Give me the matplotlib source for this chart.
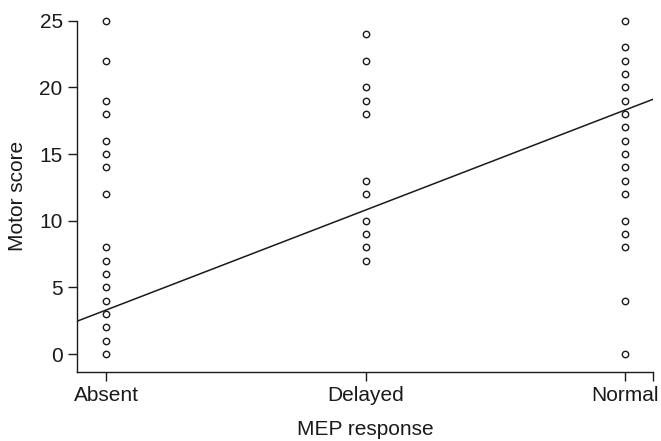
import matplotlib
matplotlib.use("Agg")
import matplotlib.pyplot as plt
import numpy as np

categories = ["Absent", "Delayed", "Normal"]
absent_scores = [25, 22, 19, 18, 16, 15, 14, 12, 8, 7, 6, 5, 4, 3, 2, 1, 0]
delayed_scores = [24, 22, 20, 19, 18, 13, 12, 10, 9, 8, 7]
normal_scores = [25, 23, 22, 21, 20, 19, 18, 17, 16, 15, 14, 13, 12, 10, 9, 8, 4, 0]
fit_intercept = 3.3
fit_slope = 7.5
yticks = [0, 5, 10, 15, 20, 25]

plt.rcParams['font.family'] = ['Liberation Sans', 'DejaVu Sans']
fig = plt.figure(figsize=(6.61, 4.41), dpi=100)
ax = fig.add_axes([0.1165, 0.157, 0.8715, 0.796])

col = "#1a1a1a"
for i, scores in enumerate([absent_scores, delayed_scores, normal_scores]):
    ax.plot([i] * len(scores), scores, linestyle='none', marker='o', markersize=4.6,
            markerfacecolor='white', markeredgecolor=col, markeredgewidth=1.0,
            clip_on=False, zorder=3)

xmin, xmax = -0.112, 2.108
xs = np.array([xmin, xmax])
ax.plot(xs, fit_intercept + fit_slope * xs, color=col, linewidth=1.1, zorder=2)

ax.set_xlim(xmin, xmax)
ax.set_ylim(-1.33, 25)
ax.set_xticks(range(len(categories)))
ax.set_xticklabels(categories)
ax.set_xticks([xmax], minor=True)
ax.set_yticks(yticks)

for s in ['top', 'right']:
    ax.spines[s].set_visible(False)
for s in ['left', 'bottom']:
    ax.spines[s].set_linewidth(1.0)
    ax.spines[s].set_color(col)

ax.tick_params(axis='both', which='both', direction='out', length=6.3, width=1.0,
               color=col, labelsize=15, labelcolor=col)
ax.tick_params(axis='x', pad=4)
ax.tick_params(axis='y', pad=4)

ax.set_xlabel("MEP response", fontsize=15, color=col, labelpad=11)
ax.set_ylabel("Motor score", fontsize=15, color=col, labelpad=9)

fig.savefig("out.png", dpi=100)
